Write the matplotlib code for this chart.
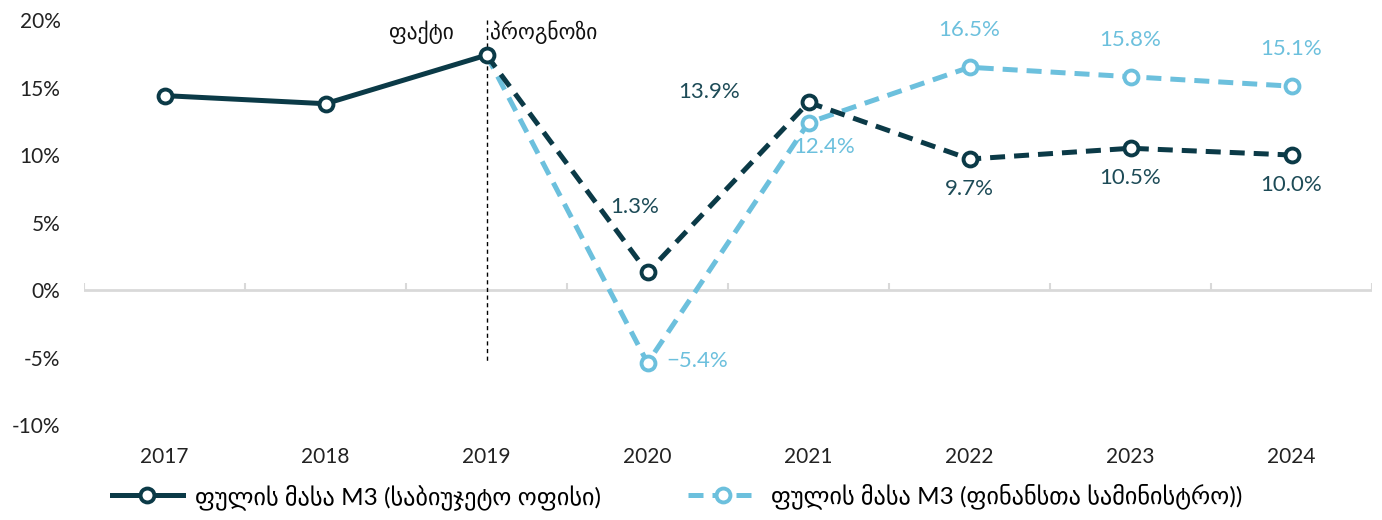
import numpy as np
import matplotlib
matplotlib.use('Agg')
import matplotlib.pyplot as plt

plt.rcParams['font.family'] = ['Lato', 'DejaVu Sans']

# dados
years = ['2017', '2018', '2019', '2020', '2021', '2022', '2023', '2024']
fact = [14.4, 13.8, 17.4]
budget_office = [17.4, 1.3, 13.9, 9.7, 10.5, 10.0]
ministry = [17.4, -5.4, 12.4, 16.5, 15.8, 15.1]

label_fact = 'ფაქტი'
label_forecast = 'პროგნოზი'
name_budget = 'ფულის მასა M3 (საბიუჯეტო ოფისი)'
name_ministry = 'ფულის მასა M3 (ფინანსთა სამინისტრო))'

dark = '#0b3a47'
light = '#6cc0dd'

fig = plt.figure(figsize=(13.82, 5.2), dpi=100)
ax = fig.add_axes([0.0608, 0.1827, 0.932, 0.7788])

x = np.arange(len(years))
x_fact = x[:3]
x_fc = x[2:]

mk = dict(marker='o', markersize=10, markerfacecolor='white', markeredgewidth=2.8)

ax.plot(x_fc, ministry, color=light, lw=3.6, dashes=(3, 1.8),
        markevery=list(range(1, 6)), markeredgecolor=light, zorder=3, **mk)
ax.plot(x_fc, budget_office, color=dark, lw=3.6, dashes=(3, 1.8),
        markevery=list(range(1, 6)), markeredgecolor=dark, zorder=4, **mk)
ax.plot(x_fact, fact, color=dark, lw=3.6, markeredgecolor=dark, zorder=5, **mk)

# legend proxies
h1, = ax.plot([], [], color=dark, lw=3.6, markeredgecolor=dark, **mk)
h2, = ax.plot([], [], color=light, lw=3.6, dashes=(3, 1.8), markeredgecolor=light, **mk)

# labels
offs_dark = [(-13, 65), (-99, 10), (0, -30), (0, -30), (0, -30)]
offs_light = [(50, 2), (16, -24), (0, 37), (0, 37), (0, 37)]
for i, (v, o) in enumerate(zip(budget_office[1:], offs_dark)):
    ax.annotate(f'{v:.1f}%', (x_fc[i + 1], v), xytext=o, textcoords='offset pixels',
                ha='center', va='center', fontsize=16, color='#1d4b57')
for i, (v, o) in enumerate(zip(ministry[1:], offs_light)):
    ax.annotate(f'{v:.1f}%'.replace('-', '−') if v < 0 else f'{v:.1f}%',
                (x_fc[i + 1], v), xytext=o, textcoords='offset pixels',
                ha='center', va='center', fontsize=16, color=light)

# zero line with ticks
ax.axhline(0, color='#d9d9d9', lw=2, zorder=1)
ax.vlines(np.arange(-0.5, len(years)), 0, 0.5, color='#d9d9d9', lw=1.5, zorder=1)

# fact / forecast separator
ax.plot([2, 2], [20, -5.4], color='black', lw=1, dashes=(3, 2.5), zorder=2)
ax.text(1.8, 19.1, label_fact, ha='right', va='center', fontsize=15.5, color='#111111')
ax.text(2.02, 19.1, label_forecast, ha='left', va='center', fontsize=15.5, color='#111111')

ax.set_xlim(-0.5, 7.5)
ax.set_ylim(-10, 20)
ax.set_xticks(x)
ax.set_xticklabels(years)
ax.set_yticks(np.arange(-10, 21, 5))
ax.set_yticklabels([f'{t}%' for t in range(-10, 21, 5)])
ax.tick_params(axis='x', length=0, pad=16, labelsize=15, colors='#222222')
ax.tick_params(axis='y', length=0, pad=17, labelsize=15, colors='#222222')
for s in ax.spines.values():
    s.set_visible(False)

fig.legend([h1, h2], [name_budget, name_ministry], loc='lower center',
           bbox_to_anchor=(0.49, -0.022), ncol=2, frameon=False, fontsize=17.5,
           handlelength=2.9, columnspacing=3.6, handletextpad=0.5)

fig.savefig('out.png', dpi=100)
